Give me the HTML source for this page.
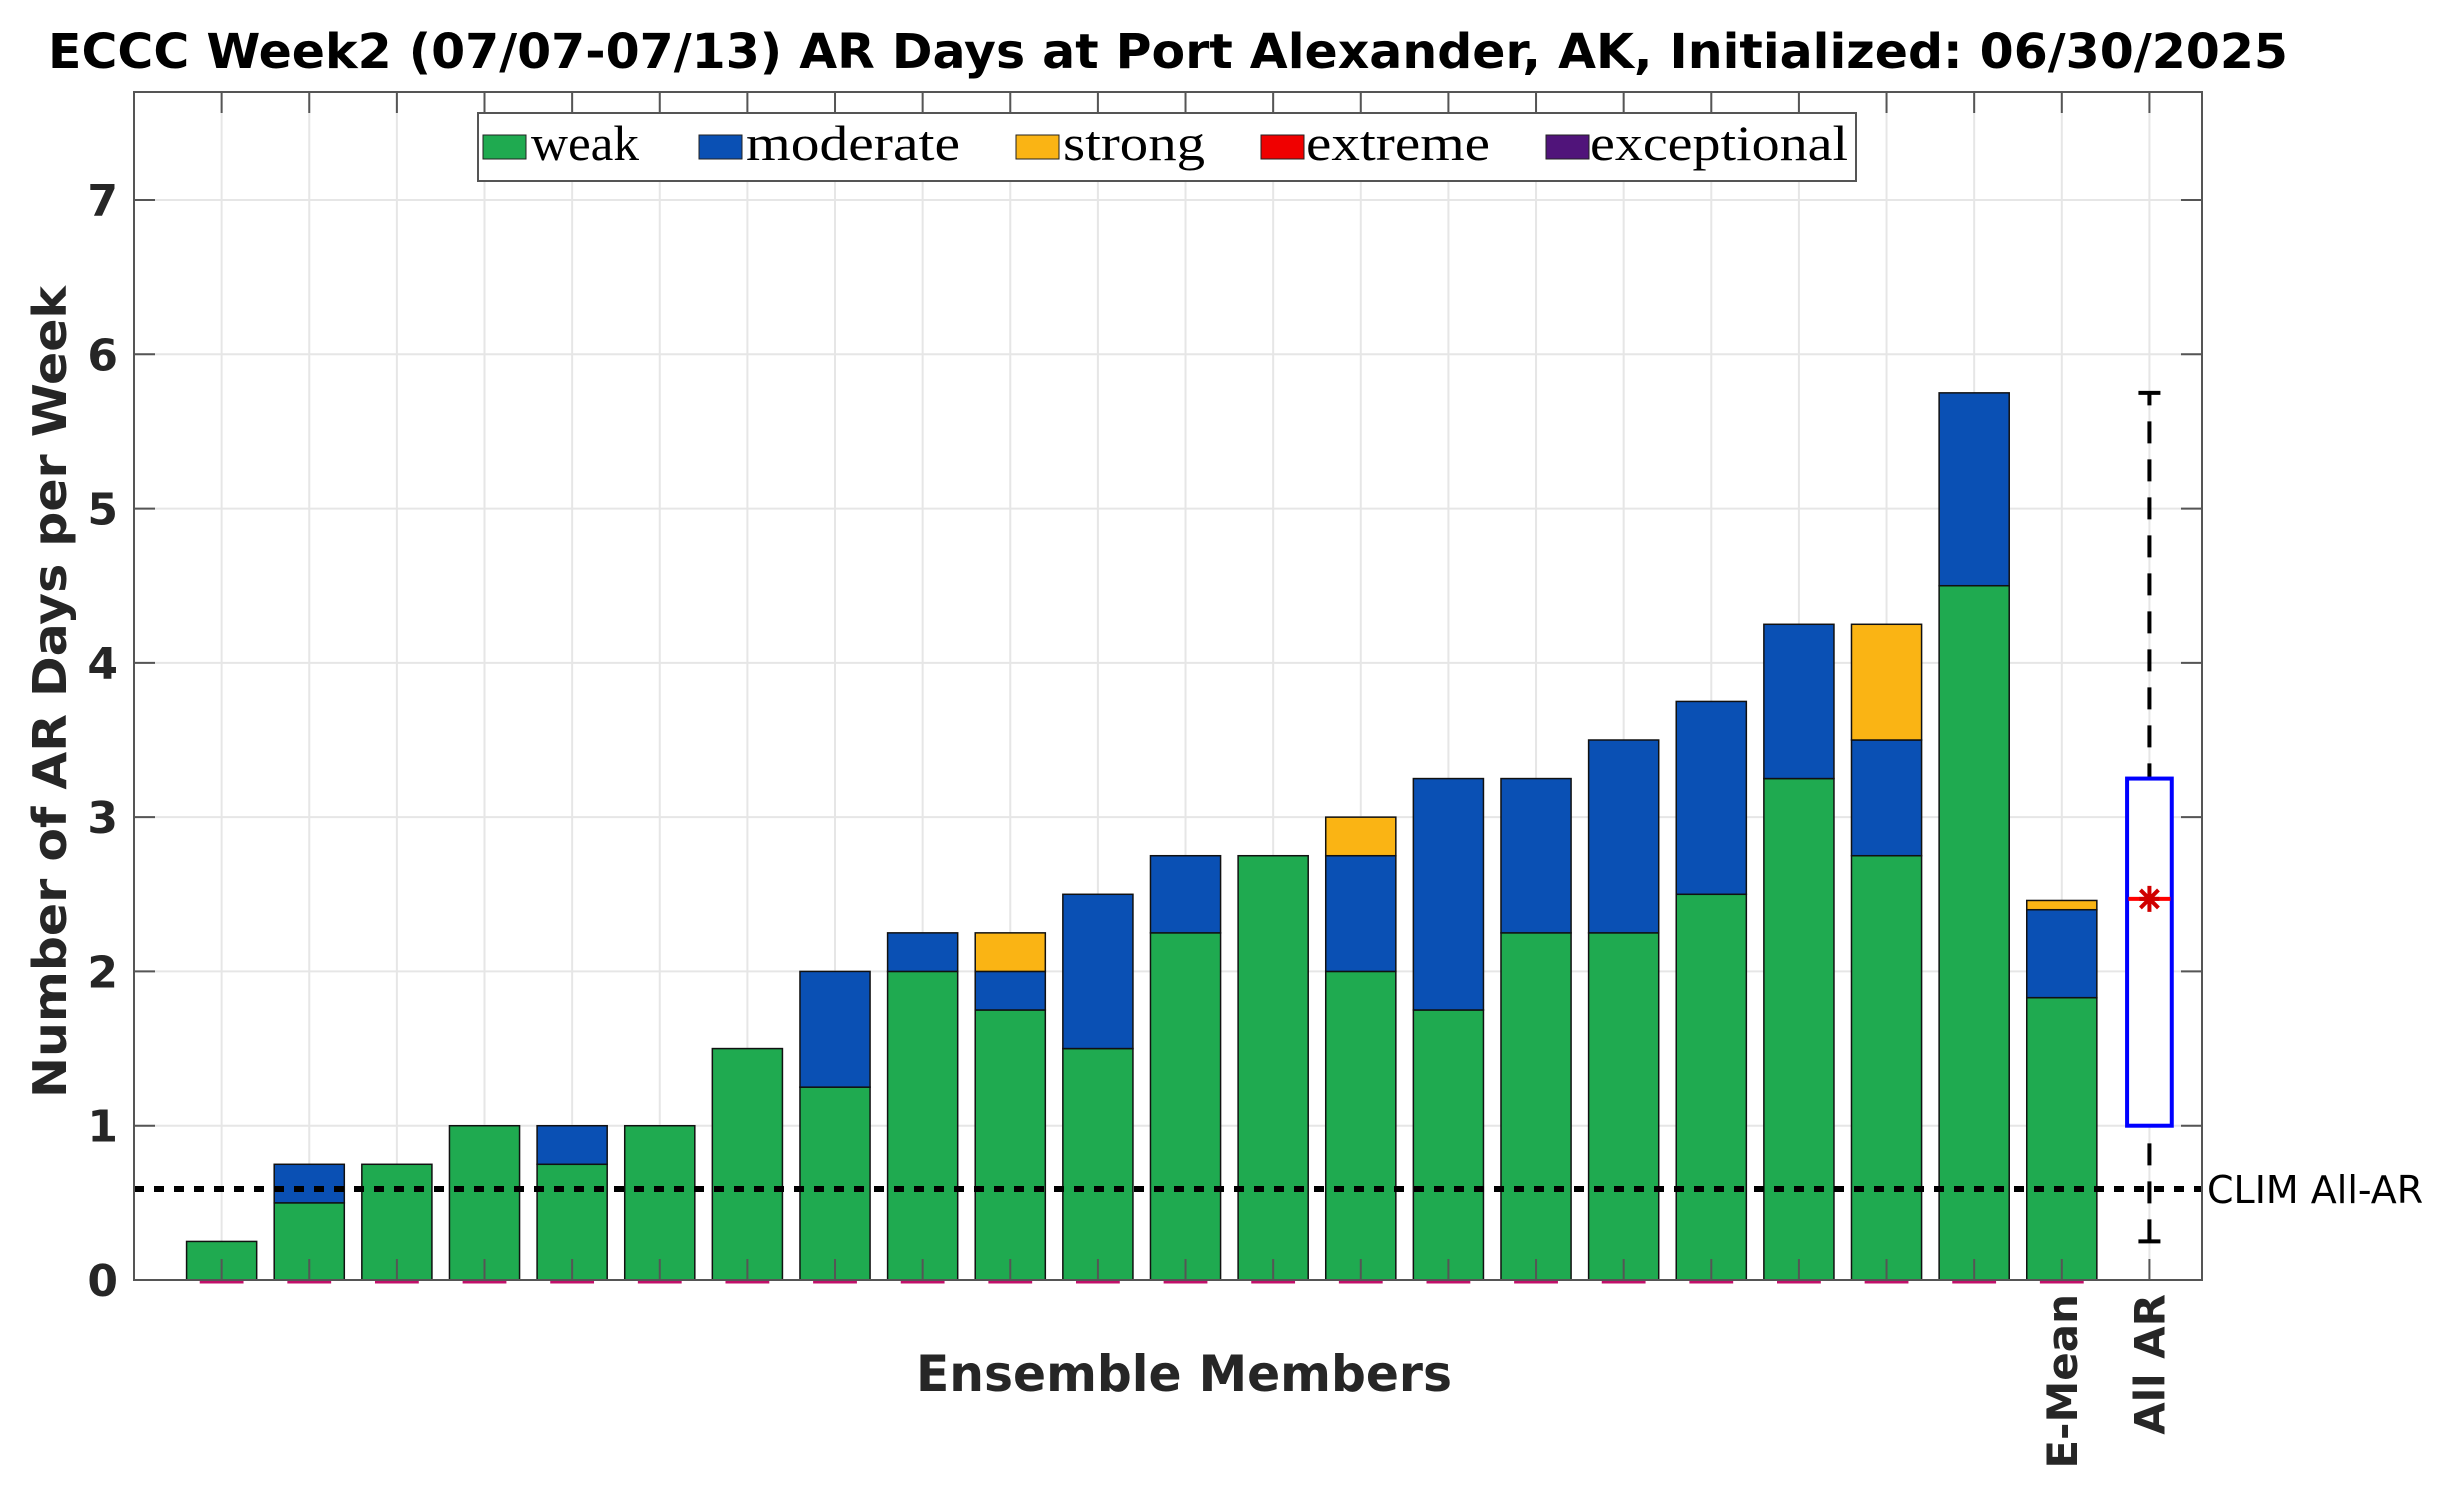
<!DOCTYPE html>
<html><head><meta charset="utf-8"><style>
html,body{margin:0;padding:0;background:#fff;}
svg{display:block;}
</style></head><body>
<svg id="chart" width="2464" height="1505" viewBox="0 0 2464 1505" xmlns="http://www.w3.org/2000/svg" font-family="DejaVu Sans, Liberation Sans, sans-serif">
<rect width="2464" height="1505" fill="#fff"/>
<text x="1168" y="68" font-size="48" font-weight="bold" text-anchor="middle" textLength="2240" lengthAdjust="spacingAndGlyphs" fill="#000">ECCC Week2 (07/07-07/13) AR Days at Port Alexander, AK, Initialized: 06/30/2025</text>
<g id="grid"></g>
<g id="bars"></g>
<g id="box"></g>
<g id="axes"></g>
<text transform="translate(66,692) rotate(-90)" font-size="46" font-weight="bold" text-anchor="middle" fill="#262626" textLength="812" lengthAdjust="spacingAndGlyphs">Number of AR Days per Week</text>
<text x="1184" y="1391" font-size="50" font-weight="bold" text-anchor="middle" fill="#262626" textLength="536" lengthAdjust="spacingAndGlyphs">Ensemble Members</text>
<text x="2207" y="1203" font-size="38" fill="#000">CLIM All-AR</text>
<g>
<rect x="478" y="113" width="1378" height="68" fill="#fff" stroke="#555" stroke-width="2"/>
<rect x="483" y="135" width="43" height="24" fill="#1faa50" stroke="#222" stroke-width="1"/>
<text x="531" y="160" font-family="Liberation Serif, serif" font-size="50" textLength="108" lengthAdjust="spacingAndGlyphs">weak</text>
<rect x="699" y="135" width="43" height="24" fill="#0a50b4" stroke="#222" stroke-width="1"/>
<text x="746" y="160" font-family="Liberation Serif, serif" font-size="50" textLength="214" lengthAdjust="spacingAndGlyphs">moderate</text>
<rect x="1016" y="135" width="43" height="24" fill="#fab414" stroke="#222" stroke-width="1"/>
<text x="1063" y="160" font-family="Liberation Serif, serif" font-size="50" textLength="142" lengthAdjust="spacingAndGlyphs">strong</text>
<rect x="1261" y="135" width="43" height="24" fill="#f00000" stroke="#222" stroke-width="1"/>
<text x="1306" y="160" font-family="Liberation Serif, serif" font-size="50" textLength="184" lengthAdjust="spacingAndGlyphs">extreme</text>
<rect x="1546" y="135" width="43" height="24" fill="#50147a" stroke="#222" stroke-width="1"/>
<text x="1590" y="160" font-family="Liberation Serif, serif" font-size="50" textLength="258" lengthAdjust="spacingAndGlyphs">exceptional</text>
</g>
</svg>
<script>
const weak = [0.25,0.5,0.75,1.0,0.75,1.0,1.5,1.25,2.0,1.75,1.5,2.25,2.75,2.0,1.75,2.25,2.25,2.5,3.25,2.75,4.5,1.83];
const moderate = [0,0.25,0,0,0.25,0,0,0.75,0.25,0.25,1.0,0.5,0,0.75,1.5,1.0,1.25,1.25,1.0,0.75,1.25,0.57];
const strong = [0,0,0,0,0,0,0,0,0,0.25,0,0,0,0.25,0,0,0,0,0,0.75,0,0.06];
const yTicks = [0,1,2,3,4,5,6,7];
const boxStats = [0.25,1.0,3.25,5.75];
const boxMean = [2.47];
const climValue = [0.59];
const xLabels = ["E-Mean","All AR"];

const NS="http://www.w3.org/2000/svg";
const L=134,R=2202,T=92,B=1280;
const xMin=0,xMax=23.6,yMin=0,yMax=7.7;
function xs(v){return L+(v-xMin)/(xMax-xMin)*(R-L);}
function ys(v){return B-(v-yMin)/(yMax-yMin)*(B-T);}
function mk(tag,attrs,parent){const e=document.createElementNS(NS,tag);for(const k in attrs)e.setAttribute(k,attrs[k]);parent.appendChild(e);return e;}
const grid=document.getElementById('grid'),bars=document.getElementById('bars'),box=document.getElementById('box'),axes=document.getElementById('axes');
const nCat=weak.length+1;
for(let i=1;i<=nCat;i++){
  const g=mk('line',{x1:xs(i),x2:xs(i),y1:T,y2:B,stroke:'#e6e6e6','stroke-width':2},grid);
  
  
}
yTicks.forEach(t=>{
  const g=mk('line',{x1:L,x2:R,y1:ys(t),y2:ys(t),stroke:'#e6e6e6','stroke-width':2},grid);
  
  
});
const bw=0.8;
const cols=['#1faa50','#0a50b4','#fab414'];
weak.forEach((w,i)=>{
  const c=i+1;let base=0;
  [w,moderate[i],strong[i]].forEach((v,k)=>{
    if(v<=0)return;
    const r=mk('rect',{x:xs(c-bw/2),width:xs(c+bw/2)-xs(c-bw/2),y:ys(base+v),height:ys(base)-ys(base+v),fill:cols[k],stroke:'#111','stroke-width':1.5},bars);
    
    
    base+=v;
  });
  const z=mk('line',{x1:xs(c-0.25),x2:xs(c+0.25),y1:B+2,y2:B+2,stroke:'#c0106a','stroke-width':3},bars);
  
  
});
// boxplot
const bc=nCat;
const wl=mk('line',{x1:xs(bc),x2:xs(bc),y1:ys(boxStats[0]),y2:ys(boxStats[3]),stroke:'#000','stroke-width':4,'stroke-dasharray':'22,16'},box);


[boxStats[0],boxStats[3]].forEach(v=>{
  const c=mk('line',{x1:xs(bc)-11,x2:xs(bc)+11,y1:ys(v),y2:ys(v),stroke:'#000','stroke-width':4},box);
  
  
});
const br=mk('rect',{x:xs(bc-0.255),width:xs(bc+0.255)-xs(bc-0.255),y:ys(boxStats[2]),height:ys(boxStats[1])-ys(boxStats[2]),fill:'#fff',stroke:'#0000ff','stroke-width':4},box);


const my=ys(boxMean[0]),mx=xs(bc);
const ml=mk('line',{x1:xs(bc-0.24),x2:xs(bc+0.24),y1:my,y2:my,stroke:'#ff0000','stroke-width':4},box);


const st=mk('path',{d:`M${mx-10},${my}H${mx+10}M${mx},${my-13}V${my+13}M${mx-9},${my-9}L${mx+9},${my+9}M${mx-9},${my+9}L${mx+9},${my-9}`,stroke:'#d00000','stroke-width':4,fill:'none'},box);


// clim line
const cl=mk('line',{x1:L,x2:R,y1:ys(climValue[0]),y2:ys(climValue[0]),stroke:'#000','stroke-width':6,'stroke-dasharray':'10,10'},axes);


// axes frame
const fr=mk('rect',{x:L,y:T,width:R-L,height:B-T,fill:'none',stroke:'#555','stroke-width':2},axes);


for(let i=1;i<=nCat;i++){
  const t1=mk('line',{x1:xs(i),x2:xs(i),y1:T,y2:T+21,stroke:'#555','stroke-width':2},axes);
  
  
  const t2=mk('line',{x1:xs(i),x2:xs(i),y1:B,y2:B-21,stroke:'#555','stroke-width':2},axes);
  
  
}
yTicks.forEach(t=>{
  const a=mk('line',{x1:L,x2:L+21,y1:ys(t),y2:ys(t),stroke:'#555','stroke-width':2},axes);
  
  
  const b=mk('line',{x1:R,x2:R-21,y1:ys(t),y2:ys(t),stroke:'#555','stroke-width':2},axes);
  
  
  const tx=mk('text',{x:118,y:ys(t)+16,'font-size':44,'font-weight':'bold','text-anchor':'end',fill:'#262626'},axes);
  tx.textContent=String(t);
  
  
});
xLabels.forEach((lab,k)=>{
  const c=nCat-1+k;
  const tx=mk('text',{transform:`translate(${xs(c)+15},1294) rotate(-90)`,'font-size':42,'font-weight':'bold','text-anchor':'end',fill:'#262626'},axes);
  tx.textContent=lab;
  
  
});
</script>
</body></html>
